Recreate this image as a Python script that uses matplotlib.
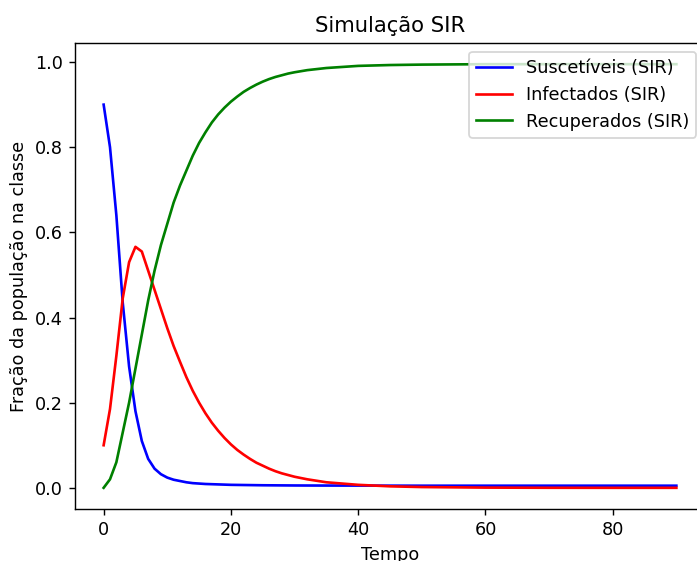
import matplotlib
matplotlib.use("Agg")
import matplotlib.pyplot as plt

# Time points
tempo = [0, 1, 2, 3, 4, 5, 6, 7, 8, 9, 10, 11, 12, 13, 14, 15, 16, 17, 18, 19, 20,
         21, 22, 23, 24, 25, 26, 27, 28, 29, 30, 32, 35, 40, 45, 50, 60, 70, 80, 90]

suscetiveis = [0.900, 0.800, 0.640, 0.435, 0.285, 0.180, 0.110, 0.068, 0.045, 0.032, 0.024,
               0.019, 0.016, 0.013, 0.011, 0.010, 0.009, 0.0085, 0.008, 0.0075, 0.007,
               0.0068, 0.0066, 0.0064, 0.0062, 0.006, 0.0059, 0.0058, 0.0057, 0.0056, 0.0055,
               0.0054, 0.0053, 0.0052, 0.0051, 0.005, 0.005, 0.005, 0.005, 0.005]

infectados = [0.100, 0.185, 0.310, 0.445, 0.530, 0.566, 0.555, 0.510, 0.465, 0.420, 0.375,
              0.333, 0.296, 0.260, 0.228, 0.200, 0.175, 0.153, 0.134, 0.117, 0.102,
              0.089, 0.078, 0.068, 0.059, 0.052, 0.045, 0.039, 0.034, 0.030, 0.026,
              0.020, 0.013, 0.007, 0.0035, 0.0018, 0.0005, 0.0001, 0.0, 0.0]

recuperados = [0.000, 0.020, 0.060, 0.130, 0.200, 0.280, 0.360, 0.440, 0.510, 0.570, 0.620,
               0.670, 0.710, 0.745, 0.780, 0.810, 0.835, 0.858, 0.877, 0.893, 0.907,
               0.919, 0.930, 0.939, 0.947, 0.954, 0.960, 0.965, 0.969, 0.973, 0.976,
               0.981, 0.986, 0.991, 0.993, 0.994, 0.995, 0.995, 0.995, 0.995]

W, H, DPI = 697, 561, 127
fig = plt.figure(figsize=(W / DPI, H / DPI), dpi=DPI)
ax = fig.add_axes([75 / W, (H - 509) / H, 630 / W, 466 / H])

ax.plot(tempo, suscetiveis, color="blue", label="Suscetíveis (SIR)")
ax.plot(tempo, infectados, color="red", label="Infectados (SIR)")
ax.plot(tempo, recuperados, color="green", label="Recuperados (SIR)")

ax.set_title("Simulação SIR")
ax.set_xlabel("Tempo")
ax.set_ylabel("Fração da população na classe")
ax.set_xticks([0, 20, 40, 60, 80])
ax.set_yticks([0.0, 0.2, 0.4, 0.6, 0.8, 1.0])
ax.legend(loc="upper right")

fig.savefig("out.png", dpi=DPI)
